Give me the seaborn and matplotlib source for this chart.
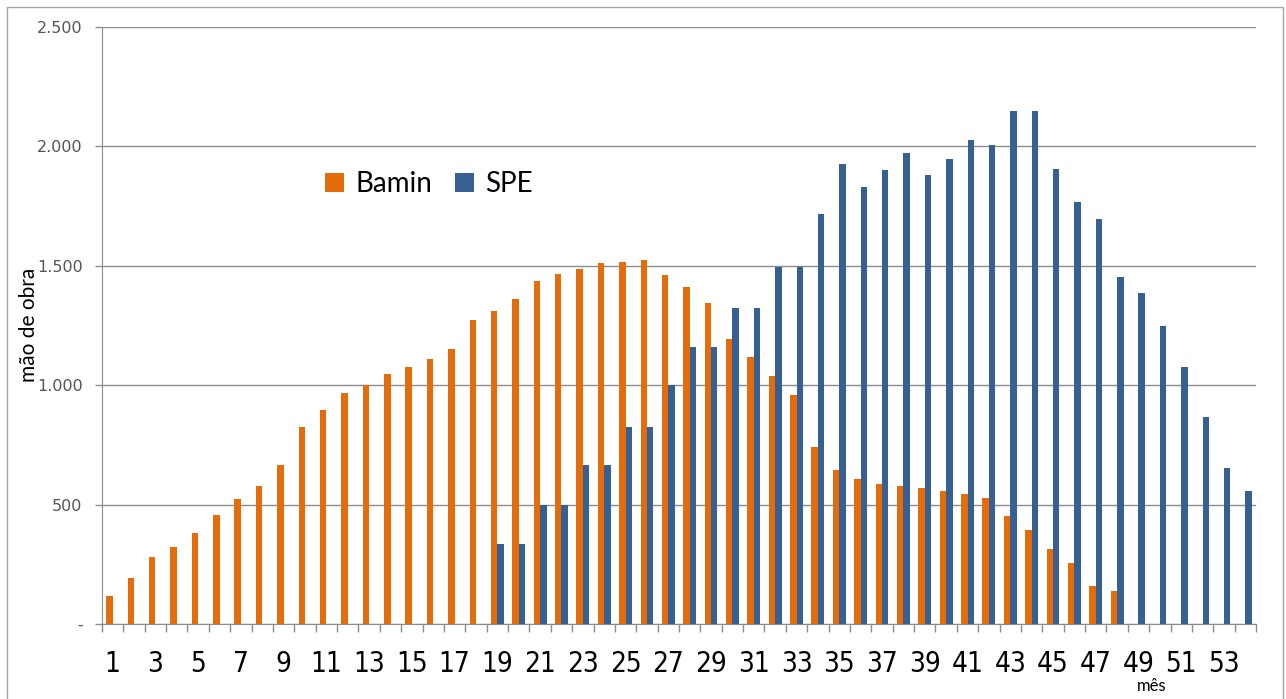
import matplotlib
matplotlib.use('Agg')
import matplotlib.pyplot as plt
from matplotlib.patches import Rectangle
from matplotlib.ticker import FixedLocator, FuncFormatter
import seaborn as sns
import pandas as pd

# mão de obra por mês
meses = list(range(1, 55))
bamin = [118, 192, 279, 323, 379, 457, 522, 578, 664, 825, 898, 968, 1000,
         1047, 1075, 1109, 1152, 1273, 1312, 1359, 1437, 1464, 1485, 1511,
         1515, 1525, 1460, 1411, 1345, 1193, 1120, 1040, 957, 742, 643, 607,
         586, 578, 569, 556, 543, 529, 452, 395, 313, 256, 161, 138]
spe_inicio = 19
spe = [334, 334, 497, 497, 666, 666, 827, 827, 1000, 1158, 1158, 1323, 1323,
       1493, 1493, 1715, 1927, 1831, 1901, 1974, 1879, 1948, 2026, 2004,
       2148, 2148, 1905, 1767, 1696, 1454, 1387, 1246, 1076, 865, 654, 556]

df = pd.concat([
    pd.DataFrame({'mes': meses[:len(bamin)], 'valor': bamin, 'serie': 'Bamin'}),
    pd.DataFrame({'mes': meses[spe_inicio - 1:spe_inicio - 1 + len(spe)], 'valor': spe, 'serie': 'SPE'}),
])
df['mes'] = pd.Categorical(df['mes'], categories=meses)

W, H = 1286, 699
fig = plt.figure(figsize=(W / 100, H / 100), dpi=100)
ax = fig.add_axes([102 / W, (H - 624) / H, 1154 / W, 597 / H])

sns.barplot(data=df, x='mes', y='valor', hue='serie', hue_order=['Bamin', 'SPE'],
            palette={'Bamin': '#E46C0A', 'SPE': '#376092'}, width=0.6,
            saturation=1, errorbar=None, ax=ax, zorder=3)

ax.set_xlim(-0.5, len(meses) - 0.5)
ax.set_ylim(0, 2500)
ax.set_yticks([0, 500, 1000, 1500, 2000, 2500])
ax.yaxis.set_major_formatter(FuncFormatter(lambda v, p: '-' if v == 0 else f'{int(v):,}'.replace(',', '.')))
ax.grid(axis='y', color='#8c8c8c', lw=1, zorder=0)
ax.set_axisbelow(True)

ax.set_xticks(range(0, len(meses), 2))
ax.set_xticklabels([str(m) for m in meses[::2]])
ax.xaxis.set_minor_locator(FixedLocator([i - 0.5 for i in range(len(meses) + 1)]))
ax.tick_params(axis='x', which='major', length=0, pad=19, labelsize=20, labelcolor='black')
ax.tick_params(axis='x', which='minor', length=6, color='#8c8c8c', width=1)
ax.tick_params(axis='y', length=5, color='#8c8c8c', width=1, labelsize=11.5, labelcolor='#555555', pad=9)
for lab in ax.get_xticklabels():
    lab.set_family(['DejaVu Sans'])
    lab.set_stretch('condensed')

for s in ['top', 'right']:
    ax.spines[s].set_visible(False)
for s in ['left', 'bottom']:
    ax.spines[s].set_color('#8c8c8c')

ax.set_xlabel('')
ax.set_ylabel('')
fig.text(29 / W, 1 - 325 / H, 'mão de obra', fontsize=15, family=['Lato', 'DejaVu Sans'],
         rotation=90, ha='center', va='center')
fig.text(1152 / W, 1 - 686 / H, 'mês', fontsize=12, family=['Lato', 'DejaVu Sans'],
         ha='center', va='center')

ax.legend(loc='center left', bbox_to_anchor=(300 / W, 1 - 184 / H), bbox_transform=fig.transFigure,
          ncol=2, frameon=False, handlelength=0.7, handleheight=0.7,
          handletextpad=0.4, columnspacing=0.8, prop={'family': ['Lato', 'DejaVu Sans'], 'size': 20})

fig.patches.append(Rectangle((7 / W, -0.01), (1283 - 7) / W, (H - 7) / H + 0.01,
                             transform=fig.transFigure, fill=False, edgecolor='#a6a6a6', lw=1))

fig.savefig('out.png', dpi=100)
